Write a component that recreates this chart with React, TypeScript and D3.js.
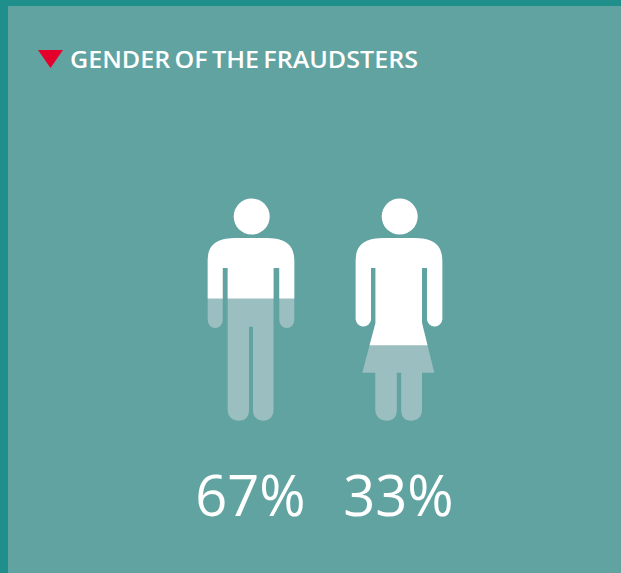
import React, { useEffect, useRef } from 'react';
import * as d3 from 'd3';

const genders = ['male', 'female'];
const percentLabels = ['67%', '33%'];
// how far down the figure the white part reaches (0 - 100)
const whiteShares = [45, 66];
const title = 'GENDER OF THE FRAUDSTERS';

const WIDTH = 621;
const HEIGHT = 573;

// silhouettes, x relative to the figure centre, y in page pixels
const maleShape = `
  M -16 238 L 16 238 C 36 238.5 43.3 246 43.3 261
  L 43.3 320 A 7.5 8 0 0 1 28.3 320 L 28.3 268 L 22.5 268
  L 22.5 410 C 22.5 417 18 420.7 12 420.7 C 6 420.7 2 417 2 410 L 2 326.7 L -2 326.7
  L -2 410 C -2 417 -6 420.7 -12 420.7 C -18 420.7 -23.3 417 -23.3 410
  L -23.3 268 L -28.3 268 L -28.3 320 A 7.5 8 0 0 1 -43.3 320
  L -43.3 261 C -43.3 246 -36 238.5 -16 238 Z`;

const femaleShape = `
  M -16 238 L 16 238 C 36 238.5 43.3 246 43.3 261
  L 43.3 319.5 A 7.7 8 0 0 1 28 319.5 L 28 268 L 23 268
  L 23 323 L 35.3 372.7 L 23 372.7
  L 23 410 C 23 417 18 420.7 12 420.7 C 6 420.7 2.2 417 2.2 410 L 2.2 372.7 L -2.2 372.7
  L -2.2 410 C -2.2 417 -6 420.7 -12 420.7 C -18 420.7 -23.7 417 -23.7 410
  L -23.7 372.7 L -36.7 372.7 L -23.5 323
  L -23.5 268 L -28 268 L -28 319.5 A 7.7 8 0 0 1 -43.3 319.5
  L -43.3 261 C -43.3 246 -36 238.5 -16 238 Z`;

const shapes = [maleShape, femaleShape];

export default function App() {
  const ref = useRef<SVGSVGElement | null>(null);

  useEffect(() => {
    const svg = d3.select(ref.current);
    svg.selectAll('*').remove();

    const x = d3.scalePoint().domain(genders).range([251, 399]);
    // share of the figure height -> y on the page
    const level = d3.scaleLinear().domain([0, 100]).range([198.5, 420.7]);

    svg.append('rect').attr('width', WIDTH).attr('height', HEIGHT).attr('fill', '#1f8f8b');
    svg.append('rect')
      .attr('x', 8)
      .attr('y', 6)
      .attr('width', WIDTH - 8)
      .attr('height', HEIGHT - 6)
      .attr('fill', '#60a3a1');

    svg.append('path').attr('d', 'M 38 50 L 63 50 L 50.5 68 Z').attr('fill', '#e4002b');
    svg.append('text')
      .attr('x', 70)
      .attr('y', 68)
      .attr('fill', '#fff')
      .attr('font-family', 'Open Sans')
      .attr('font-weight', 600)
      .attr('font-size', 23)
      .attr('word-spacing', -2)
      .attr('textLength', 348)
      .attr('lengthAdjust', 'spacingAndGlyphs')
      .text(title);

    genders.forEach((g, i) => {
      const clipId = `clip-${g}`;
      svg.append('clipPath')
        .attr('id', clipId)
        .append('rect')
        .attr('x', x(g)! - 60)
        .attr('y', 190)
        .attr('width', 120)
        .attr('height', level(whiteShares[i]) - 190);

      const fig = svg.append('g').attr('transform', `translate(${x(g)},0)`);
      fig.append('path').attr('d', shapes[i]).attr('fill', '#9bbfc0');

      const top = svg.append('g').attr('clip-path', `url(#${clipId})`)
        .append('g').attr('transform', `translate(${x(g)},0)`);
      top.append('path').attr('d', shapes[i]).attr('fill', '#fff');
      top.append('circle').attr('cx', 0.7).attr('cy', 216.5).attr('r', 18).attr('fill', '#fff');

      svg.append('text')
        .attr('x', x(g)! - 0.5)
        .attr('y', 516)
        .attr('text-anchor', 'middle')
        .attr('fill', '#fff')
        .attr('font-family', 'Open Sans')
        .attr('font-weight', 380)
        .attr('font-size', 56)
        .text(percentLabels[i]);
    });
  }, []);

  return (
    <svg
      ref={ref}
      width={WIDTH}
      height={HEIGHT}
      style={{ position: 'absolute', left: 0, top: 0 }}
    />
  );
}
